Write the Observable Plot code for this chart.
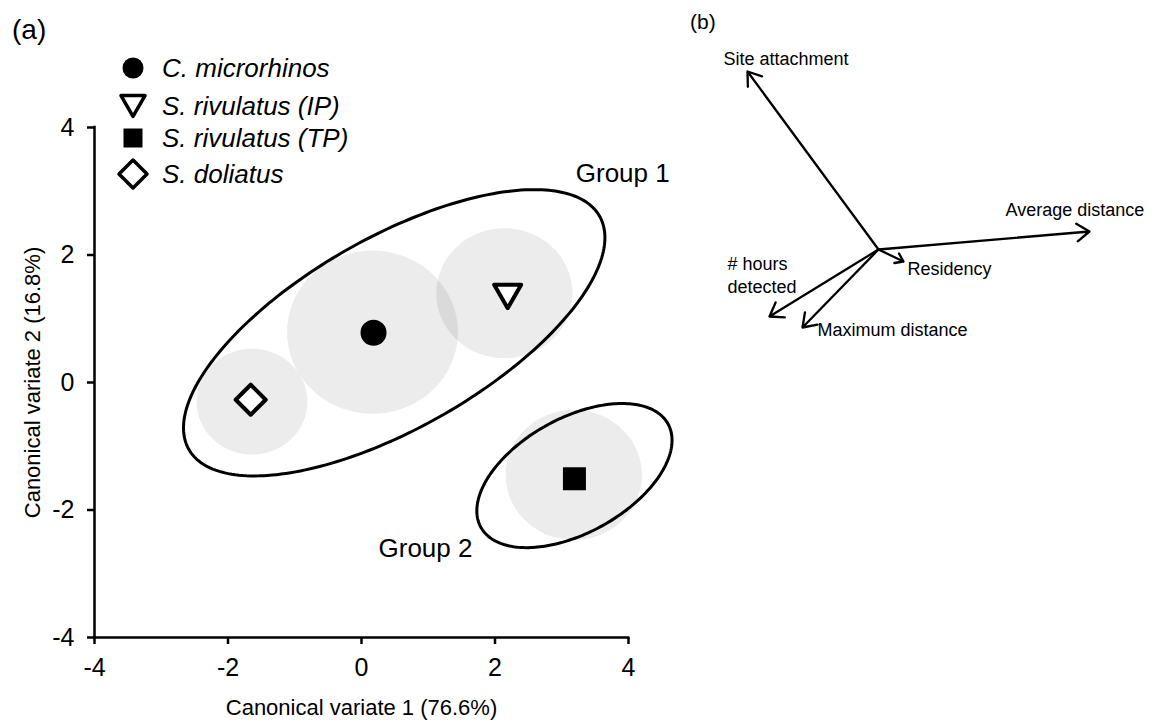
<!DOCTYPE html>
<html><head><meta charset="utf-8">
<script src="https://cdn.jsdelivr.net/npm/d3@7"></script>
<script src="https://cdn.jsdelivr.net/npm/@observablehq/plot@0.6"></script>
<style>
body{margin:0;background:#fff;}
#wrap{position:relative;width:1153px;height:726px;font-family:"Liberation Sans",Arial,Helvetica,sans-serif;}
#pa{position:absolute;left:0;top:0;}
#pb{position:absolute;left:690px;top:0;}
svg{overflow:visible;}
</style></head><body><div id="wrap"><div id="pa"></div><div id="pb"></div></div>
<script>
// ---------- data ----------
const species = ["C. microrhinos", "S. rivulatus (IP)", "S. rivulatus (TP)", "S. doliatus"];
const cv1 = [0.18, 2.19, 3.19, -1.66];          // group mean, canonical variate 1
const cv2 = [0.78, 1.35, -1.51, -0.27];         // group mean, canonical variate 2
const ciCv1 = [0.165, 2.14, 3.18, -1.64];       // confidence circle centre
const ciCv2 = [0.79, 1.40, -1.45, -0.30];
const ciRadius = [1.28, 1.02, 1.02, 0.83];      // confidence circle radius (CV units)
const groups = ["Group 1", "Group 2"];
const groupCv1 = [0.49, 3.19];
const groupCv2 = [0.78, -1.46];
const groupMajor = [3.58, 1.62];
const groupMinor = [1.48, 0.89];
const groupAngle = [31.2, 31.0];                // degrees
const axisTicks = [-4, -2, 0, 2, 4];
const variables = ["Site attachment", "Average distance", "Residency", "# hours detected", "Maximum distance"];
const loadingX = [-0.655, 1.055, 0.125, -0.545, -0.38];
const loadingY = [0.89, 0.09, -0.06, -0.335, -0.39];

// ---------- symbols ----------
const triangleDown = {draw(c, size) { const r = Math.sqrt(size / Math.PI), h = r * Math.sqrt(3);
  c.moveTo(-r, -h / 2); c.lineTo(r, -h / 2); c.lineTo(0, h / 2); c.closePath(); }};
const diamondSym = {draw(c, size) { const r = Math.sqrt(size / Math.PI);
  c.moveTo(0, -r); c.lineTo(r, 0); c.lineTo(0, r); c.lineTo(-r, 0); c.closePath(); }};
const squareSym = {draw(c, size) { const r = Math.sqrt(size / Math.PI);
  c.moveTo(-r, -r); c.lineTo(r, -r); c.lineTo(r, r); c.lineTo(-r, r); c.closePath(); }};
const circleSym = {draw(c, size) { const r = Math.sqrt(size / Math.PI);
  c.moveTo(r, 0); c.arc(0, 0, r, 0, 2 * Math.PI); c.closePath(); }};

const styles = {
  "C. microrhinos":    {symbol: circleSym,    fill: "black", stroke: "none",  r: 13,   lr: 10.5},
  "S. rivulatus (IP)": {symbol: triangleDown, fill: "white", stroke: "black", r: 13.5, lr: 12},
  "S. rivulatus (TP)": {symbol: squareSym,    fill: "black", stroke: "none",  r: 11.5, lr: 9.5},
  "S. doliatus":       {symbol: diamondSym,   fill: "white", stroke: "black", r: 15,   lr: 14}
};

// ---------- tables ----------
const means = species.map((s, i) => ({species: s, cv1: cv1[i], cv2: cv2[i]}));
const circlePts = [];
species.forEach((s, i) => {
  for (let k = 0; k < 180; k++) {
    const t = 2 * Math.PI * k / 180;
    circlePts.push({species: s, cv1: ciCv1[i] + ciRadius[i] * Math.cos(t), cv2: ciCv2[i] + ciRadius[i] * Math.sin(t)});
  }
});
const ellipsePts = [];
groups.forEach((g, i) => {
  const phi = groupAngle[i] * Math.PI / 180;
  for (let k = 0; k < 240; k++) {
    const t = 2 * Math.PI * k / 240;
    const a = groupMajor[i] * Math.cos(t), b = groupMinor[i] * Math.sin(t);
    ellipsePts.push({group: g, cv1: groupCv1[i] + a * Math.cos(phi) - b * Math.sin(phi),
                                cv2: groupCv2[i] + a * Math.sin(phi) + b * Math.cos(phi)});
  }
});
const groupLabelPos = {"Group 1": {cv1: 3.21, cv2: 3.28}, "Group 2": {cv1: 0.255, cv2: -2.60}};
const groupLabels = groups.map(g => ({group: g, ...groupLabelPos[g]}));

const font = '"Liberation Sans", Arial, Helvetica, sans-serif';

// ---------- panel (a) ----------
const plotA = Plot.plot({
  width: 680, height: 726,
  marginLeft: 94, marginRight: 52, marginTop: 127, marginBottom: 89,
  style: {fontFamily: font, background: "white", color: "black"},
  x: {domain: [-4, 4], label: null, axis: null},
  y: {domain: [-4, 4], label: null, axis: null},
  marks: [
    Plot.line(circlePts, {x: "cv1", y: "cv2", z: "species", curve: "linear-closed", fill: "black", fillOpacity: 0.075, stroke: "none"}),
    Plot.line(ellipsePts, {x: "cv1", y: "cv2", z: "group", curve: "linear-closed", fill: "none", stroke: "black", strokeWidth: 3}),
    Plot.ruleX([-4], {y1: -4, y2: 4, stroke: "black", strokeWidth: 2.5, strokeLinecap: "square"}),
    Plot.ruleY([-4], {x1: -4, x2: 4, stroke: "black", strokeWidth: 2.5, strokeLinecap: "square"}),
    Plot.axisX(axisTicks, {tickSize: 7, tickPadding: 14, fontSize: 25, strokeWidth: 2.5, label: null, tickFormat: d => String(d)}),
    Plot.axisY(axisTicks, {tickSize: 7, tickPadding: 13, fontSize: 25, strokeWidth: 2.5, label: null, tickFormat: d => String(d)}),
    Plot.text(["Canonical variate 1 (76.6%)"], {frameAnchor: "bottom", dy: 77, fontSize: 22, fill: "black"}),
    Plot.text(["Canonical variate 2 (16.8%)"], {frameAnchor: "left", dx: -62, rotate: -90, textAnchor: "middle", fontSize: 22, fill: "black"}),
    Plot.text(groupLabels, {x: "cv1", y: "cv2", text: "group", textAnchor: "start", fontSize: 26, fill: "black"}),
    ...species.map(s => Plot.dot(means.filter(d => d.species === s), {
      x: "cv1", y: "cv2", symbol: styles[s].symbol, r: styles[s].r,
      fill: styles[s].fill, stroke: styles[s].stroke, strokeWidth: 4, strokeLinejoin: "round"
    }))
  ]
});
document.getElementById("pa").appendChild(plotA);

// legend and panel tag
const svgA = d3.select(plotA);
svgA.append("text").attr("x", 12).attr("y", 39).attr("text-anchor", "start").attr("font-size", 28)
  .attr("font-family", font).attr("fill", "black").text("(a)");
const leg = svgA.append("g").attr("text-anchor", "start");
const legY = [68, 106, 138, 174];
species.forEach((s, i) => {
  const st = styles[s];
  leg.append("path")
    .attr("transform", `translate(133,${legY[i]})`)
    .attr("d", d3.symbol(st.symbol, Math.PI * st.lr * st.lr)())
    .attr("fill", st.fill).attr("stroke", st.stroke).attr("stroke-width", 3.5).attr("stroke-linejoin", "round");
  leg.append("text").attr("x", 162).attr("y", legY[i] + 9).attr("text-anchor", "start").attr("font-size", 26)
    .attr("font-style", "italic").attr("font-family", font).attr("fill", "black").text(s);
});

// ---------- panel (b) ----------
const loadings = variables.map((v, i) => ({variable: v, x: loadingX[i], y: loadingY[i]}));
const labelLayout = {
  "Site attachment":  {dx: -24, dy: -14},
  "Average distance": {dx: -84, dy: -23},
  "Residency":        {dx: 4,   dy: 6},
  "# hours detected": {dx: -42, dy: -42, text: "# hours\ndetected"},
  "Maximum distance": {dx: 15,  dy: 1}
};
const plotB = Plot.plot({
  width: 463, height: 350, margin: 0,
  style: {fontFamily: font, background: "transparent", color: "black"},
  x: {domain: [-0.94, 1.375], axis: null},
  y: {domain: [-0.505, 1.245], axis: null},
  marks: [
    Plot.arrow(loadings, {x1: 0, y1: 0, x2: "x", y2: "y", stroke: "black", strokeWidth: 2.3, headLength: 10, headAngle: 70}),
    ...variables.map(v => Plot.text(loadings.filter(d => d.variable === v), {
      x: "x", y: "y", text: d => labelLayout[v].text || d.variable,
      dx: labelLayout[v].dx, dy: labelLayout[v].dy, textAnchor: "start", lineAnchor: "middle",
      lineHeight: 1.28, fontSize: 18, fill: "black"
    }))
  ]
});
document.getElementById("pb").appendChild(plotB);
d3.select(plotB).append("text").attr("x", 0).attr("y", 29).attr("text-anchor", "start").attr("font-size", 21)
  .attr("font-family", font).attr("fill", "black").text("(b)");
</script></body></html>
